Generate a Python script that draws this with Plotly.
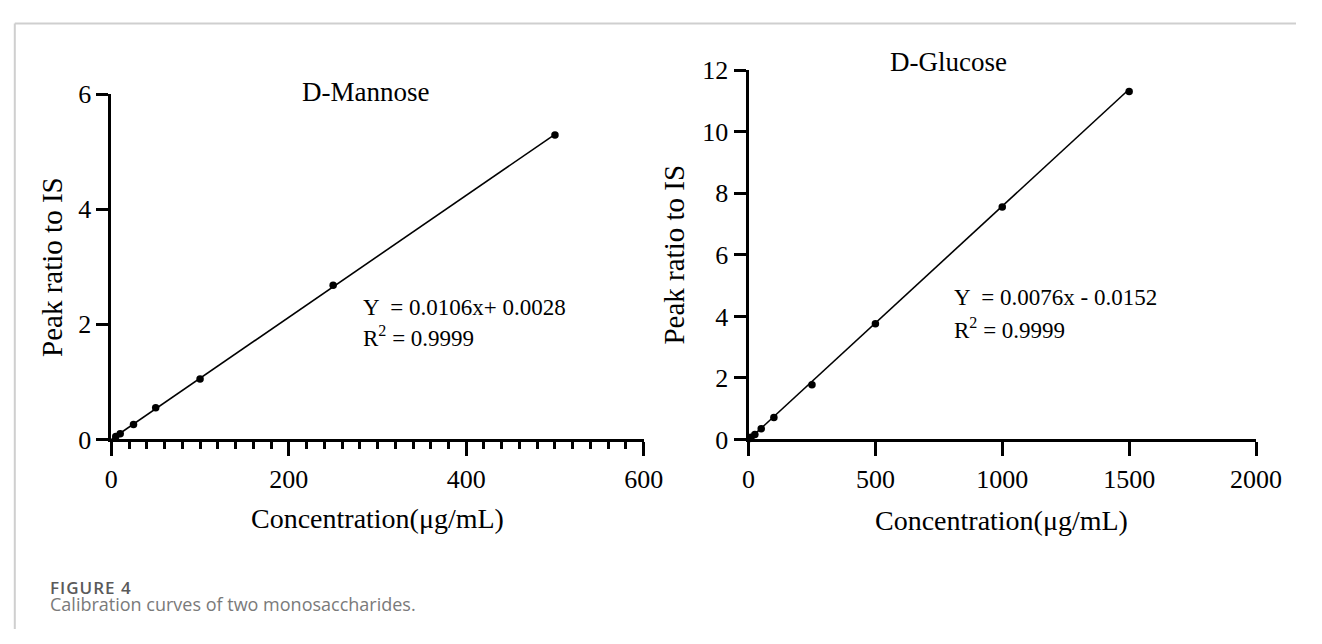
import plotly.graph_objects as go

# ---------------- data ----------------
man_x = [5, 10, 25, 50, 100, 250, 500]
man_y = [0.05, 0.10, 0.26, 0.55, 1.05, 2.68, 5.29]
man_slope, man_icpt = 0.0106, 0.0028

glu_x = [5, 10, 25, 50, 100, 250, 500, 1000, 1500]
glu_y = [0.03, 0.07, 0.16, 0.35, 0.71, 1.78, 3.76, 7.56, 11.31]
glu_slope, glu_icpt = 0.0076, -0.0152

man_xticks = [0, 200, 400, 600]
man_yticks = [0, 2, 4, 6]
glu_xticks = [0, 500, 1000, 1500, 2000]
glu_yticks = [0, 2, 4, 6, 8, 10, 12]

titles = ["D-Mannose", "D-Glucose"]
ytitle = "Peak ratio to IS"
xtitle = "Concentration(μg/mL)"
eq_man = ["Y  = 0.0106x+ 0.0028", "R<sup>2</sup> = 0.9999"]
eq_glu = ["Y  = 0.0076x - 0.0152", "R<sup>2</sup> = 0.9999"]
cap_head = "FIGURE 4"
cap_text = "Calibration curves of two monosaccharides."

# ---------------- layout helpers ----------------
W, H = 1322, 644
def px(x):
    return x / W
def py(y):
    return 1 - y / H

SERIF = "Liberation Serif, Times New Roman, serif"
SANS = "Open Sans, Noto Sans, sans-serif"

fig = go.Figure()

def fitline(xs, slope, icpt):
    lx = [0, max(xs)]
    ly = [slope * v + icpt for v in lx]
    return lx, ly

lx, ly = fitline(man_x, man_slope, man_icpt)
fig.add_trace(go.Scatter(x=lx, y=ly, mode="lines", line=dict(color="black", width=1.6),
                         xaxis="x", yaxis="y", showlegend=False, cliponaxis=False))
fig.add_trace(go.Scatter(x=man_x, y=man_y, mode="markers", marker=dict(color="black", size=7.5),
                         xaxis="x", yaxis="y", showlegend=False, cliponaxis=False))

lx, ly = fitline(glu_x, glu_slope, glu_icpt)
fig.add_trace(go.Scatter(x=lx, y=ly, mode="lines", line=dict(color="black", width=1.6),
                         xaxis="x2", yaxis="y2", showlegend=False, cliponaxis=False))
fig.add_trace(go.Scatter(x=glu_x, y=glu_y, mode="markers", marker=dict(color="black", size=7.5),
                         xaxis="x2", yaxis="y2", showlegend=False, cliponaxis=False))

tickfont = dict(family=SERIF, size=26, color="black")
axcommon = dict(showline=True, linecolor="black", linewidth=3, ticks="outside",
                tickcolor="black", tickwidth=3, showgrid=False, zeroline=False,
                tickfont=tickfont, fixedrange=True)

fig.update_layout(
    width=W, height=H,
    margin=dict(l=0, r=0, t=0, b=0),
    paper_bgcolor="white", plot_bgcolor="white",
    xaxis=dict(domain=[px(107), px(653)], range=[0, 600], tickvals=man_xticks,
               ticklen=14, anchor="y",
               minor=dict(dtick=20, ticks="outside", ticklen=7, tickwidth=3, tickcolor="black",
                          showgrid=False),
               **axcommon),
    yaxis=dict(domain=[py(445.5), py(84)], range=[0, 6], tickvals=man_yticks,
               ticklen=12, anchor="x", **axcommon),
    xaxis2=dict(domain=[px(760.5), px(1281)], range=[0, 2000], tickvals=glu_xticks,
                ticklen=14, anchor="y2", **axcommon),
    yaxis2=dict(domain=[py(445.5), py(59)], range=[0, 12], tickvals=glu_yticks,
                ticklen=12, anchor="x2", **axcommon),
)

ann = []
def A(text, x, y, size, family=SERIF, color="black", xanchor="center", yanchor="middle",
      textangle=0, weight="normal", align="center"):
    ann.append(dict(text=text, x=px(x), y=py(y), xref="paper", yref="paper",
                    xanchor=xanchor, yanchor=yanchor, showarrow=False, textangle=textangle,
                    align=align,
                    font=dict(family=family, size=size, color=color, weight=weight)))

A(titles[0], 368, 82, 27)
A(titles[1], 966, 50, 27)
A(ytitle, 46, 265, 29, textangle=-90)
A(ytitle, 684, 252, 29, textangle=-90)
A(xtitle, 380, 528, 28)
A(xtitle, 1020, 530, 28)
A(eq_man[0], 363, 307, 23, xanchor="left")
A(eq_man[1], 363, 338, 23, xanchor="left")
A(eq_glu[0], 969, 297, 23, xanchor="left")
A(eq_glu[1], 969, 329, 23, xanchor="left")

caption = ('<span style="font-size:17px;font-weight:600;color:#5a5a5a;letter-spacing:1px">'
           + cap_head + '</span><br><span style="font-size:18px">' + cap_text + '</span>')
A(caption, 42, 586, 13, family=SANS, color="#7a7a7a", xanchor="left", yanchor="top",
  align="left")

fig.update_layout(annotations=ann)

fig.update_layout(shapes=[
    dict(type="line", xref="paper", yref="paper", x0=px(8), x1=1, y0=py(10), y1=py(10),
         line=dict(color="#cfcfcf", width=2)),
    dict(type="line", xref="paper", yref="paper", x0=px(8), x1=px(8), y0=py(10), y1=0,
         line=dict(color="#cfcfcf", width=2)),
])

fig.write_html("out.html")
